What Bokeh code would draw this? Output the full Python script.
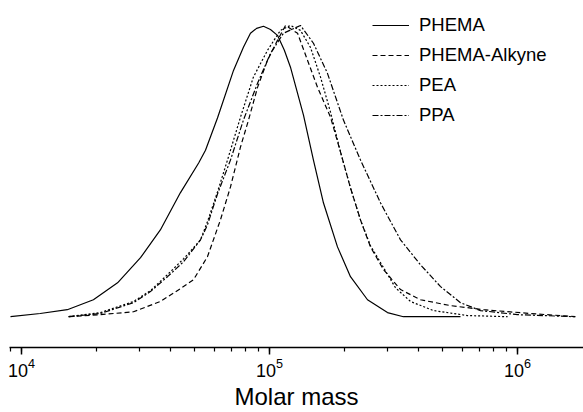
from bokeh.plotting import figure
from bokeh.models import Legend, LegendItem, Range1d
from bokeh.embed import file_html
from bokeh.resources import INLINE

# ---- data (molar mass, normalised detector response) ----
phema_m = [9030, 11900, 15300, 19500, 24400, 30200, 36300, 43700, 51800, 55200,
           61700, 71600, 78500, 83800, 88700, 94600, 100900, 107700, 114800,
           121500, 137100, 150400, 165100, 188000, 212100, 248400, 299000,
           346700, 589000]
phema_w = [0.003, 0.014, 0.027, 0.061, 0.119, 0.205, 0.300, 0.427, 0.529, 0.573,
           0.683, 0.846, 0.925, 0.973, 0.990, 0.997, 0.986, 0.966, 0.915,
           0.857, 0.693, 0.539, 0.392, 0.242, 0.140, 0.061, 0.017,
           0.003, 0.003]

alkyne_m = [15500, 20800, 28300, 36300, 43700, 49400, 56200, 63400, 69600, 76400,
            82300, 89500, 98200, 107700, 116100, 129800, 142300, 156200, 176200,
            193300, 212100, 232800, 255400, 288200, 337500, 406000, 537000,
            729000, 1127000, 1710000]
alkyne_w = [0.003, 0.010, 0.020, 0.055, 0.099, 0.130, 0.208, 0.334, 0.447, 0.584,
            0.676, 0.788, 0.881, 0.949, 1.0, 0.973, 0.881, 0.788, 0.686,
            0.567, 0.444, 0.334, 0.242, 0.164, 0.096, 0.061, 0.041,
            0.027, 0.014, 0.003]

pea_m = [15500, 20800, 28300, 33100, 38800, 45000, 52700, 56200, 61700, 67700,
         76400, 86100, 98200, 110700, 121500, 133300, 146300, 160600, 176200,
         193300, 212100, 232800, 255400, 288200, 322200, 370500, 458600,
         628000, 912000]
pea_w = [0.003, 0.017, 0.055, 0.092, 0.147, 0.201, 0.266, 0.328, 0.430, 0.539,
         0.686, 0.823, 0.915, 0.983, 1.0, 0.983, 0.925, 0.823, 0.703,
         0.567, 0.444, 0.334, 0.246, 0.171, 0.102, 0.055, 0.024,
         0.007, 0.003]

ppa_m = [15500, 20800, 28300, 33100, 38800, 45000, 52700, 56200, 61700, 69600,
         78500, 89500, 100900, 113800, 133300, 150400, 171300, 198700, 232800,
         280600, 337500, 406000, 489500, 589000, 709000, 1000000, 1710000]
ppa_w = [0.003, 0.014, 0.051, 0.089, 0.140, 0.191, 0.266, 0.317, 0.423, 0.539,
         0.676, 0.802, 0.904, 0.973, 1.0, 0.939, 0.836, 0.676, 0.539,
         0.392, 0.266, 0.181, 0.106, 0.051, 0.024, 0.010, 0.003]

labels = ["PHEMA", "PHEMA-Alkyne", "PEA", "PPA"]
x_title = "Molar mass"

FONT = "Liberation Sans"

p = figure(width=583, height=412, x_axis_type="log",
           output_backend="svg", toolbar_location=None,
           x_range=Range1d(8947, 1845500), y_range=Range1d(-0.1024, 1.0853),
           min_border_left=9, min_border_right=0, min_border_top=0,
           min_border_bottom=64)

p.outline_line_color = None
p.xgrid.visible = False
p.ygrid.visible = False
p.yaxis.visible = False
p.background_fill_color = "white"
p.border_fill_color = "white"

ax = p.xaxis[0]
ax.axis_line_color = "black"
ax.axis_line_width = 1.5
ax.major_tick_out = 7
ax.major_tick_in = 0
ax.minor_tick_out = 4
ax.minor_tick_in = 0
ax.major_tick_line_width = 1.5
ax.minor_tick_line_width = 1.2
ax.major_label_text_font = FONT
ax.major_label_text_font_size = "18px"
ax.major_label_text_color = "black"
ax.major_label_standoff = 3
ax.axis_label = x_title
ax.axis_label_text_font = FONT
ax.axis_label_text_font_size = "24px"
ax.axis_label_text_font_style = "normal"
ax.axis_label_text_color = "black"
ax.axis_label_standoff = 3

lw = 1.2
r1 = p.line(phema_m, phema_w, line_color="black", line_width=lw)
r2 = p.line(alkyne_m, alkyne_w, line_color="black", line_width=lw, line_dash="5 3")
r3 = p.line(pea_m, pea_w, line_color="black", line_width=lw, line_dash="2 2")
r4 = p.line(ppa_m, ppa_w, line_color="black", line_width=lw, line_dash="6 2 2 2")

legend = Legend(items=[LegendItem(label=labels[i], renderers=[r])
                       for i, r in enumerate([r1, r2, r3, r4])],
                location=(363, 221), padding=0, margin=0, spacing=8,
                glyph_width=37, glyph_height=20, label_height=20,
                label_standoff=10, border_line_color=None,
                background_fill_alpha=0,
                label_text_font=FONT, label_text_font_size="18.5px",
                label_text_color="black")
p.add_layout(legend)

open("out.html", "w").write(file_html(p, INLINE))
